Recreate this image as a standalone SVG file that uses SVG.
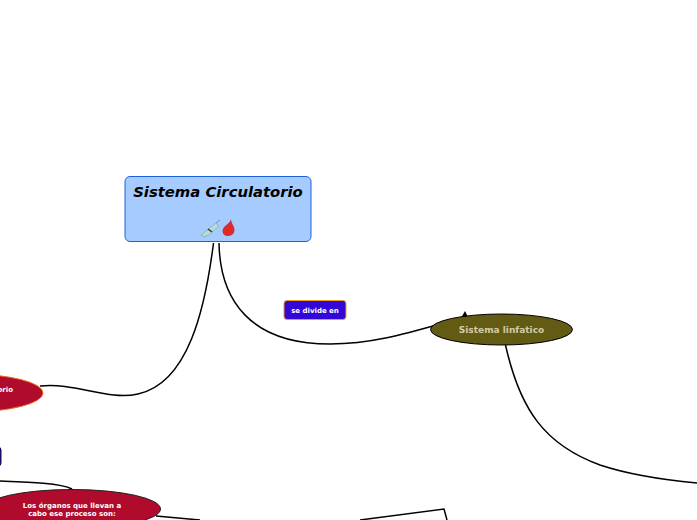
<svg xmlns="http://www.w3.org/2000/svg" width="697" height="520" viewBox="0 0 697 520">
<style>
text{font-family:"DejaVu Sans",sans-serif;font-weight:700;text-anchor:middle}
.c{fill:none;stroke:#000;stroke-width:1.500}
.w{fill:#fff;font-size:7px}
</style>
<rect width="697" height="520" fill="#fff"/>
<g id="connectors">
<path class="c" d="M213.500 243C205 310 188 383 138 394C108 401 75 382 40 386"/>
<path class="c" d="M219 243C220 300 250 344 330 344C370 344 405 334 440 324"/>
<path d="M461 318L465 311L469 319Z" fill="#000"/>
<path class="c" d="M505.500 345C520 410 545 445 600 465C630 475 665 480 697 483"/>
<path class="c" d="M0 481C25 482 60 483 72 489"/>
<path class="c" d="M156 516L200 520M360 520L444 509L447 520"/>
</g>
<g id="node-sistema-circulatorio">
<rect x="125" y="176.500" width="186" height="65" rx="5" fill="#a5cbff" stroke="#1a62e0"/>
<text x="218" y="197" font-size="14.800" font-style="italic">Sistema Circulatorio</text>
<g id="icon-syringe">
<path d="M201 235L206 231L216 223L219 226L209 235L204 237Z" fill="#b5dcd8" stroke="#7fa9a8" stroke-width=".7"/>
<path d="M208 229L212 232" stroke="#333" stroke-width="1.500"/>
<path d="M216 223L220 220" stroke="#5f9ea0" stroke-width="1"/>
</g>
<path id="icon-drop" d="M231 219C230 224 222.500 226 222.500 231C222.500 234 225 236 228 236C232 236 234.500 233 234.500 230C234.500 226 231 223 231 219Z" fill="#df2a2a"/>
</g>
<g id="node-divide">
<rect x="284" y="300.500" width="62" height="19" rx="3" fill="#3207d8" stroke="#f0a020"/>
<text class="w" x="315" y="313">se divide en</text>
</g>
<g id="node-linfatico">
<ellipse cx="501.500" cy="329.500" rx="71" ry="15.500" fill="#635a14" stroke="#000"/>
<text x="501.500" y="333" font-size="9" fill="#d2cda0">Sistema linfatico</text>
</g>
<g id="node-cardio">
<ellipse cx="-32" cy="393" rx="75" ry="19" fill="#b00b2c" stroke="#f06a20"/>
<text class="w" x="13" y="392" style="text-anchor:end">orio</text>
</g>
<g id="node-partial">
<rect x="-20" y="447" width="21" height="19" rx="3" fill="#1c1478" stroke="#100a50"/>
</g>
<g id="node-organos">
<ellipse cx="72" cy="509" rx="88.500" ry="19.500" fill="#b00b2c" stroke="#222"/>
<text class="w" x="72" y="508">Los órganos que llevan a</text>
<text class="w" x="72" y="516">cabo ese proceso son:</text>
</g>
</svg>
